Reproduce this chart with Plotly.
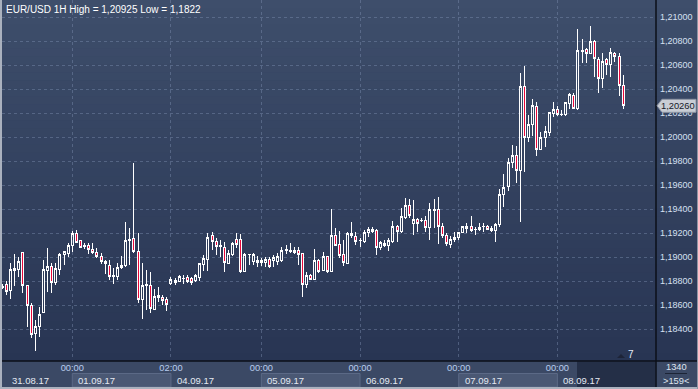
import plotly.graph_objects as go

# ---------------- data (EUR/USD, 1H bars) ----------------
open_ = [1.18755, 1.18775, 1.18720, 1.18886, 1.18892, 1.19036, 1.18759, 1.18600, 1.18359, 1.18420,
         1.18536, 1.18886, 1.18925, 1.18786, 1.18900, 1.19020, 1.19031, 1.19092, 1.19198, 1.19134,
         1.19086, 1.19100, 1.19064, 1.19039, 1.19003, 1.18961, 1.18931, 1.18842, 1.18836, 1.18914,
         1.18931, 1.19134, 1.19156, 1.19050, 1.18648, 1.18759, 1.18764, 1.18564, 1.18664, 1.18659,
         1.18642, 1.18781, 1.18808, 1.18795, 1.18822, 1.18831, 1.18819, 1.18808, 1.18831, 1.18939,
         1.18981, 1.19183, 1.19133, 1.19092, 1.19081, 1.18947, 1.19017, 1.19147, 1.19147, 1.18878,
         1.19019, 1.18961, 1.18975, 1.18953, 1.18956, 1.18983, 1.18967, 1.18961, 1.18969, 1.19058,
         1.19044, 1.19058, 1.19053, 1.19031, 1.18775, 1.18850, 1.18814, 1.18969, 1.18886, 1.19008,
         1.18878, 1.19183, 1.19108, 1.19017, 1.18947, 1.19181, 1.19175, 1.19136, 1.19128, 1.19203,
         1.19233, 1.19217, 1.19081, 1.19114, 1.19094, 1.19128, 1.19258, 1.19211, 1.19331, 1.19433,
         1.19281, 1.19314, 1.19308, 1.19308, 1.19247, 1.19386, 1.19400, 1.19258, 1.19183, 1.19108,
         1.19142, 1.19161, 1.19203, 1.19239, 1.19258, 1.19231, 1.19231, 1.19253, 1.19253, 1.19239,
         1.19219, 1.19269, 1.19519, 1.19586, 1.19786, 1.19847, 1.19719, 1.20425, 1.19997, 1.20103,
         1.20253, 1.19897, 1.19997, 1.20036, 1.20197, 1.20231, 1.20189, 1.20186, 1.20281, 1.20350,
         1.20236, 1.20717, 1.20731, 1.20697, 1.20800, 1.20648, 1.20489, 1.20642, 1.20606, 1.20698,
         1.20675, 1.20433]
high = [1.18775, 1.18800, 1.18948, 1.19025, 1.19003, 1.19045, 1.18765, 1.18614, 1.18475, 1.18586,
        1.18975, 1.19073, 1.18948, 1.18948, 1.19031, 1.19053, 1.19114, 1.19220, 1.19225, 1.19142,
        1.19114, 1.19114, 1.19114, 1.19073, 1.19031, 1.18975, 1.18975, 1.18906, 1.18948, 1.19011,
        1.19289, 1.19242, 1.19783, 1.19197, 1.18948, 1.18892, 1.18878, 1.18731, 1.18753, 1.18684,
        1.18670, 1.18836, 1.18822, 1.18850, 1.18850, 1.18850, 1.18836, 1.18858, 1.18947, 1.19017,
        1.19197, 1.19211, 1.19156, 1.19142, 1.19128, 1.19058, 1.19128, 1.19197, 1.19192, 1.19031,
        1.19025, 1.19031, 1.19008, 1.18989, 1.18997, 1.18997, 1.19017, 1.19031, 1.19086, 1.19100,
        1.19114, 1.19086, 1.19086, 1.19036, 1.18878, 1.18858, 1.19064, 1.18981, 1.19044, 1.19008,
        1.19400, 1.19239, 1.19219, 1.19142, 1.19211, 1.19289, 1.19211, 1.19156, 1.19225, 1.19247,
        1.19247, 1.19231, 1.19136, 1.19142, 1.19156, 1.19303, 1.19267, 1.19406, 1.19489, 1.19481,
        1.19475, 1.19322, 1.19322, 1.19342, 1.19447, 1.19481, 1.19503, 1.19281, 1.19197, 1.19175,
        1.19211, 1.19211, 1.19258, 1.19281, 1.19342, 1.19247, 1.19281, 1.19281, 1.19267, 1.19258,
        1.19281, 1.19564, 1.19692, 1.19822, 1.19933, 1.19925, 1.20536, 1.20592, 1.20183, 1.20314,
        1.20294, 1.20044, 1.20092, 1.20208, 1.20294, 1.20258, 1.20225, 1.20294, 1.20369, 1.20364,
        1.20900, 1.20817, 1.20744, 1.20925, 1.20808, 1.20667, 1.20698, 1.20661, 1.20739, 1.20711,
        1.20698, 1.20517]
low = [1.18731, 1.18684, 1.18653, 1.18759, 1.18836, 1.18698, 1.18420, 1.18323, 1.18220, 1.18336,
       1.18530, 1.18711, 1.18698, 1.18767, 1.18850, 1.18934, 1.19003, 1.19045, 1.19114, 1.19073,
       1.19064, 1.19023, 1.19023, 1.18989, 1.18939, 1.18859, 1.18809, 1.18775, 1.18809, 1.18897,
       1.18920, 1.18934, 1.19031, 1.18620, 1.18481, 1.18559, 1.18536, 1.18560, 1.18628, 1.18600,
       1.18550, 1.18767, 1.18767, 1.18795, 1.18775, 1.18781, 1.18767, 1.18794, 1.18803, 1.18886,
       1.18886, 1.19058, 1.19017, 1.19003, 1.18878, 1.18942, 1.19008, 1.19072, 1.18869, 1.18878,
       1.18931, 1.18933, 1.18919, 1.18925, 1.18919, 1.18906, 1.18919, 1.18933, 1.18961, 1.19025,
       1.19031, 1.19025, 1.18933, 1.18664, 1.18739, 1.18808, 1.18808, 1.18864, 1.18886, 1.18864,
       1.18878, 1.19092, 1.18989, 1.18925, 1.18942, 1.19156, 1.19100, 1.19086, 1.19119, 1.19164,
       1.19197, 1.19017, 1.19058, 1.19081, 1.19053, 1.19119, 1.19128, 1.19203, 1.19314, 1.19322,
       1.19183, 1.19211, 1.19294, 1.19211, 1.19142, 1.19239, 1.19108, 1.19156, 1.19092, 1.19072,
       1.19128, 1.19142, 1.19197, 1.19203, 1.19211, 1.19183, 1.19219, 1.19211, 1.19225, 1.19211,
       1.19128, 1.19253, 1.19419, 1.19553, 1.19739, 1.19614, 1.19294, 1.19711, 1.19961, 1.20008,
       1.19842, 1.19892, 1.19914, 1.20008, 1.20169, 1.20175, 1.20175, 1.20178, 1.20233, 1.20233,
       1.20225, 1.20614, 1.20614, 1.20689, 1.20503, 1.20369, 1.20406, 1.20517, 1.20503, 1.20628,
       1.20344, 1.20233]
close = [1.18750, 1.18711, 1.18892, 1.18903, 1.18959, 1.18764, 1.18595, 1.18356, 1.18420, 1.18525,
         1.18892, 1.18925, 1.18786, 1.18906, 1.19025, 1.19042, 1.19092, 1.19198, 1.19123, 1.19081,
         1.19098, 1.19064, 1.19036, 1.19003, 1.18961, 1.18942, 1.18836, 1.18840, 1.18914, 1.18931,
         1.19136, 1.19150, 1.19045, 1.18642, 1.18764, 1.18775, 1.18567, 1.18675, 1.18676, 1.18636,
         1.18606, 1.18814, 1.18786, 1.18836, 1.18820, 1.18794, 1.18789, 1.18842, 1.18942, 1.18989,
         1.19164, 1.19128, 1.19086, 1.19086, 1.18956, 1.19031, 1.19114, 1.19108, 1.18878, 1.19017,
         1.19017, 1.19017, 1.18953, 1.18969, 1.18983, 1.18925, 1.18997, 1.19003, 1.19058, 1.19060,
         1.19058, 1.19039, 1.19022, 1.18772, 1.18842, 1.18814, 1.18969, 1.18878, 1.19008, 1.18878,
         1.19183, 1.19100, 1.19011, 1.18953, 1.19192, 1.19192, 1.19128, 1.19134, 1.19203, 1.19233,
         1.19214, 1.19081, 1.19122, 1.19094, 1.19136, 1.19258, 1.19211, 1.19336, 1.19433, 1.19342,
         1.19314, 1.19281, 1.19306, 1.19247, 1.19392, 1.19400, 1.19258, 1.19183, 1.19114, 1.19142,
         1.19164, 1.19206, 1.19253, 1.19258, 1.19219, 1.19229, 1.19247, 1.19251, 1.19231, 1.19219,
         1.19275, 1.19525, 1.19578, 1.19789, 1.19847, 1.19719, 1.20425, 1.19997, 1.20108, 1.20264,
         1.19897, 1.19997, 1.20042, 1.20208, 1.20231, 1.20189, 1.20186, 1.20286, 1.20356, 1.20236,
         1.20725, 1.20715, 1.20697, 1.20800, 1.20656, 1.20489, 1.20633, 1.20606, 1.20706, 1.20669,
         1.20428, 1.20260]
bar_index = list(range(len(open_)))

# time-axis labels (bar index of each session start)
tick_idx = [17, 41, 63, 87, 111, 135]
tick_text = ["00:00", "02:00", "00:00", "00:00", "00:00", "00:00"]
date_labels = ["31.08.17", "01.09.17", "04.09.17", "05.09.17", "06.09.17", "07.09.17", "08.09.17"]
date_start = [0, 17, 41, 63, 87, 111, 135]
price_ticks = [1.184, 1.186, 1.188, 1.190, 1.192, 1.194, 1.196, 1.198,
               1.200, 1.202, 1.204, 1.206, 1.208, 1.210]
visible_bars = 159
counter_top = "1340"
marker_count = "7"

# ---------------- layout geometry ----------------
W, H = 698, 389
ML, MR, MT, MB = 2, 42, 0, 28
PW = W - ML - MR
PH = H - MT - MB
X_RANGE = [-0.1, 159.0]
Y_RANGE = [1.1813333, 1.2114167]


def pxx(x):
    return (x - ML) / PW


def pxy(y):
    return (MT + PH - y) / PH


def fmt(v, trim=False):
    s = f"{v:.5f}"
    if trim:
        s = s.rstrip("0")
    return s.replace(".", ",")


title = f"EUR/USD 1H High = {fmt(max(high), True)} Low = {fmt(min(low), True)}"

fig = go.Figure()
fig.add_trace(go.Candlestick(
    x=bar_index, open=open_, high=high, low=low, close=close,
    increasing=dict(line=dict(color="#ffffff", width=1), fillcolor="rgba(0,0,0,0)"),
    decreasing=dict(line=dict(color="#ffffff", width=1), fillcolor="#e8083a"),
    whiskerwidth=0, hoverinfo="skip", showlegend=False,
))

shapes = []
# vertical gradient background
N = 45
top = (62, 78, 107)
bot = (40, 53, 83)
for k in range(N):
    t = (k + 0.5) / N
    c = tuple(round(top[i] + (bot[i] - top[i]) * t) for i in range(3))
    shapes.append(dict(type="rect", xref="paper", yref="paper", layer="below",
                       x0=pxx(0), x1=pxx(W), y0=pxy(PH * (k + 1) / N + 0.5), y1=pxy(PH * k / N),
                       line=dict(width=0), fillcolor=f"rgb{c}"))
# bottom time panel
shapes.append(dict(type="rect", xref="paper", yref="paper", layer="below",
                   x0=pxx(0), x1=pxx(W), y0=pxy(H), y1=pxy(PH),
                   line=dict(width=0), fillcolor="#3b4965"))
# lighter date boxes (alternate days)
for j in range(1, len(date_start) - 1, 2):
    shapes.append(dict(type="rect", xref="x", yref="paper", layer="below",
                       x0=date_start[j], x1=date_start[j + 1], y0=pxy(387), y1=pxy(373.5),
                       line=dict(width=1, color="#5b6986"), fillcolor="#4a5874"))
# dark scroll overlay at right of time panel
shapes.append(dict(type="rect", xref="paper", yref="paper", layer="above",
                   x0=pxx(577), x1=pxx(655.5), y0=pxy(387), y1=pxy(361.5),
                   line=dict(width=0), fillcolor="rgba(28,37,60,0.72)"))
# separator lines
shapes.append(dict(type="line", xref="paper", yref="paper", layer="above",
                   x0=pxx(0), x1=pxx(W), y0=pxy(361), y1=pxy(361),
                   line=dict(width=1.5, color="#0b0f18")))
shapes.append(dict(type="line", xref="paper", yref="paper", layer="above",
                   x0=pxx(656), x1=pxx(656), y0=pxy(H), y1=pxy(0),
                   line=dict(width=1.5, color="#0b0f18")))
# counter box separator line
shapes.append(dict(type="line", xref="paper", yref="paper", layer="above",
                   x0=pxx(665), x1=pxx(687), y0=pxy(373.5), y1=pxy(373.5),
                   line=dict(width=1, color="#1c2436")))
# small triangle marker
shapes.append(dict(type="path", xref="paper", yref="paper", layer="above",
                   path=f"M {pxx(617)},{pxy(358)} L {pxx(625)},{pxy(358)} L {pxx(621)},{pxy(354)} Z",
                   line=dict(width=0), fillcolor="#1d2438"))
# window frame
shapes.append(dict(type="rect", xref="paper", yref="paper", layer="above",
                   x0=pxx(0), x1=pxx(2), y0=pxy(H), y1=pxy(0),
                   line=dict(width=0), fillcolor="#aab1be"))
shapes.append(dict(type="rect", xref="paper", yref="paper", layer="above",
                   x0=pxx(0), x1=pxx(W), y0=pxy(H), y1=pxy(387),
                   line=dict(width=0), fillcolor="#aab1be"))
shapes.append(dict(type="rect", xref="paper", yref="paper", layer="above",
                   x0=pxx(697), x1=pxx(W), y0=pxy(H), y1=pxy(0),
                   line=dict(width=0), fillcolor="#8d95a4"))
# current price marker
last_price = close[-1]
shapes.append(dict(type="path", xref="paper", yref="y", layer="above",
                   xsizemode="pixel", ysizemode="pixel", xanchor=1.0, yanchor=last_price,
                   path="M 1,0 L 6,6.5 L 40,6.5 L 40,-6.5 L 6,-6.5 Z",
                   line=dict(width=1, color="#8e95a3"), fillcolor="#c9cdd5"))

annotations = [
    dict(text=title, xref="paper", yref="paper", x=pxx(4), y=pxy(10), xanchor="left",
         yanchor="middle", showarrow=False, font=dict(size=10, color="#ffffff")),
    dict(text=fmt(last_price), xref="paper", yref="y", x=1.0, y=last_price, xanchor="left",
         xshift=3, yanchor="middle", showarrow=False, font=dict(size=9.3, color="#151a28")),
    dict(text=counter_top, xref="paper", yref="paper", x=pxx(676), y=pxy(366.5), xanchor="center",
         yanchor="middle", showarrow=False, font=dict(size=9.3, color="#dfe5f0")),
    dict(text=f"&gt;{visible_bars}&lt;", xref="paper", yref="paper", x=pxx(676), y=pxy(380.5),
         xanchor="center", yanchor="middle", showarrow=False, font=dict(size=9.3, color="#dfe5f0")),
    dict(text=marker_count, xref="paper", yref="paper", x=pxx(630.5), y=pxy(354.5), xanchor="center",
         yanchor="middle", showarrow=False, font=dict(size=10, color="#e6ecf7")),
]
for j, (lab, st) in enumerate(zip(date_labels, date_start)):
    annotations.append(dict(text=lab, xref="x", yref="paper", x=max(st, X_RANGE[0]),
                            y=pxy(380.5), xanchor="left", yanchor="middle",
                            xshift=8 if j == 0 else 4, showarrow=False,
                            font=dict(size=9.5, color="#e4e9f2")))

fig.update_layout(
    width=W, height=H,
    margin=dict(l=ML, r=MR, t=MT, b=MB, pad=0),
    paper_bgcolor="#34425f",
    plot_bgcolor="rgba(0,0,0,0)",
    separators=", ",
    font=dict(family="Liberation Sans, Arial, sans-serif", size=9.5, color="#dfe5f0"),
    showlegend=False,
    hovermode=False,
    boxgap=0.3,
    shapes=shapes,
    annotations=annotations,
    xaxis=dict(
        type="linear", range=X_RANGE, tickmode="array", tickvals=tick_idx, ticktext=tick_text,
        showgrid=True, gridcolor="rgba(125,142,175,0.45)", griddash="3px,3px", gridwidth=1,
        zeroline=False, showline=False, ticks="", tickfont=dict(size=9.3, color="#b9cdee"),
        rangeslider=dict(visible=False), fixedrange=True,
    ),
    yaxis=dict(
        range=Y_RANGE, side="right", tickmode="array", tickvals=price_ticks, tickformat=".5f",
        showgrid=True, gridcolor="rgba(125,142,175,0.45)", griddash="3px,3px", gridwidth=1,
        zeroline=False, showline=False, ticks="", ticklabelstandoff=3,
        tickfont=dict(size=9, color="#d6e0f2"), fixedrange=True,
    ),
)

fig.write_html(
    "out.html",
    config={"displayModeBar": False},
    post_script=(
        "document.body.style.margin='0';document.body.style.padding='0';"
        "document.body.style.overflow='hidden';"
        "var st=document.createElement('style');"
        "st.textContent='.boxlayer path{shape-rendering:crispEdges}';"
        "document.head.appendChild(st);"
    ),
)
